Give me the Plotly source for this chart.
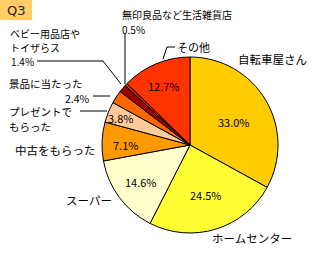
import plotly.graph_objects as go

W, H = 316, 254

categories = ["自転車屋さん", "ホームセンター", "スーパー", "中古をもらった", "プレゼントでもらった",
              "景品に当たった", "ベビー用品店やトイザらス", "無印良品など生活雑貨店", "その他"]
values = [33.0, 24.5, 14.6, 7.1, 3.8, 2.4, 1.4, 0.5, 12.7]
colors = ["#FFCC00", "#FFFF33", "#FFFFCC", "#FF9900", "#FFCC99", "#FF6600", "#990000", "#CC3300", "#FF3300"]
pct_labels = [f"{v:.1f}%" for v in values]

FONT = "Noto Sans CJK JP"

def px(x, y):
    return x / W, 1 - y / H

# pie placement (pixels): center (190,145), radius 88
cx, cy, r = 190, 145, 88
x0, y0 = px(cx - r, cy + r)
x1, y1 = px(cx + r, cy - r)

fig = go.Figure(go.Pie(
    labels=categories, values=values, sort=False, direction="clockwise", rotation=0,
    marker=dict(colors=colors, line=dict(color="black", width=1)),
    textinfo="none", hoverinfo="label+percent", showlegend=False,
    domain=dict(x=[x0, x1], y=[y0, y1]),
))

annotations = []
shapes = []

def text(x, y, s, anchor="left", size=11):
    ax, ay = px(x, y)
    annotations.append(dict(x=ax, y=ay, xref="paper", yref="paper", text=s, showarrow=False,
                            xanchor=anchor, yanchor="middle",
                            font=dict(family=FONT, size=size, color="black")))

def line(pts):
    for (a, b), (c, d) in zip(pts[:-1], pts[1:]):
        xa, ya = px(a, b)
        xc, yc = px(c, d)
        shapes.append(dict(type="line", xref="paper", yref="paper", x0=xa, y0=ya, x1=xc, y1=yc,
                           line=dict(color="black", width=1)))

# inside percentages
inside_pos = {0: (234, 122), 1: (206, 195), 2: (141, 182), 3: (125, 145), 4: (120, 118), 8: (164, 86)}
for i, (x, y) in inside_pos.items():
    text(x, y, pct_labels[i], anchor="center")

# outside labels
text(236, 59, categories[0], size=11.5)
text(294, 238, categories[1], anchor="right", size=11.5)
text(114, 200, categories[2], anchor="right", size=11.5)
text(98, 150, categories[3], anchor="right", size=11.5)
text(7, 111, "プレゼントで", size=10.5)
text(7, 126, "もらった", size=10.5)
line([(80, 111), (107, 111)])
text(7, 83, categories[5], size=10.5)
text(92, 98, pct_labels[5], anchor="right", size=10.5)
line([(93, 96), (110, 96)])
text(8, 33, "ベビー用品店や", size=10)
text(8, 47, "トイザらス", size=10)
text(9, 61, pct_labels[6], size=10)
line([(37, 61), (103, 61), (121, 84)])
text(120, 14, categories[7], size=10)
text(120, 29, pct_labels[7], size=10)
line([(125, 34), (125, 84)])
text(175, 47, categories[8], size=11)
line([(163, 59), (167, 47), (175, 47)])

# Q3 badge
qx0, qy0 = px(0, 20)
qx1, qy1 = px(32, 0)
shapes.append(dict(type="rect", xref="paper", yref="paper", x0=qx0, y0=qy0, x1=qx1, y1=qy1,
                   fillcolor="#FFCC66", line=dict(width=0), layer="below"))
qa, qb = px(16, 10)
annotations.append(dict(x=qa, y=qb, xref="paper", yref="paper", text="Q3", showarrow=False,
                        xanchor="center", yanchor="middle",
                        font=dict(family="DejaVu Sans", size=13, color="#222222")))

fig.update_layout(width=W, height=H, margin=dict(l=0, r=0, t=0, b=0),
                  paper_bgcolor="white", plot_bgcolor="white",
                  annotations=annotations, shapes=shapes)
fig.write_html("out.html")
